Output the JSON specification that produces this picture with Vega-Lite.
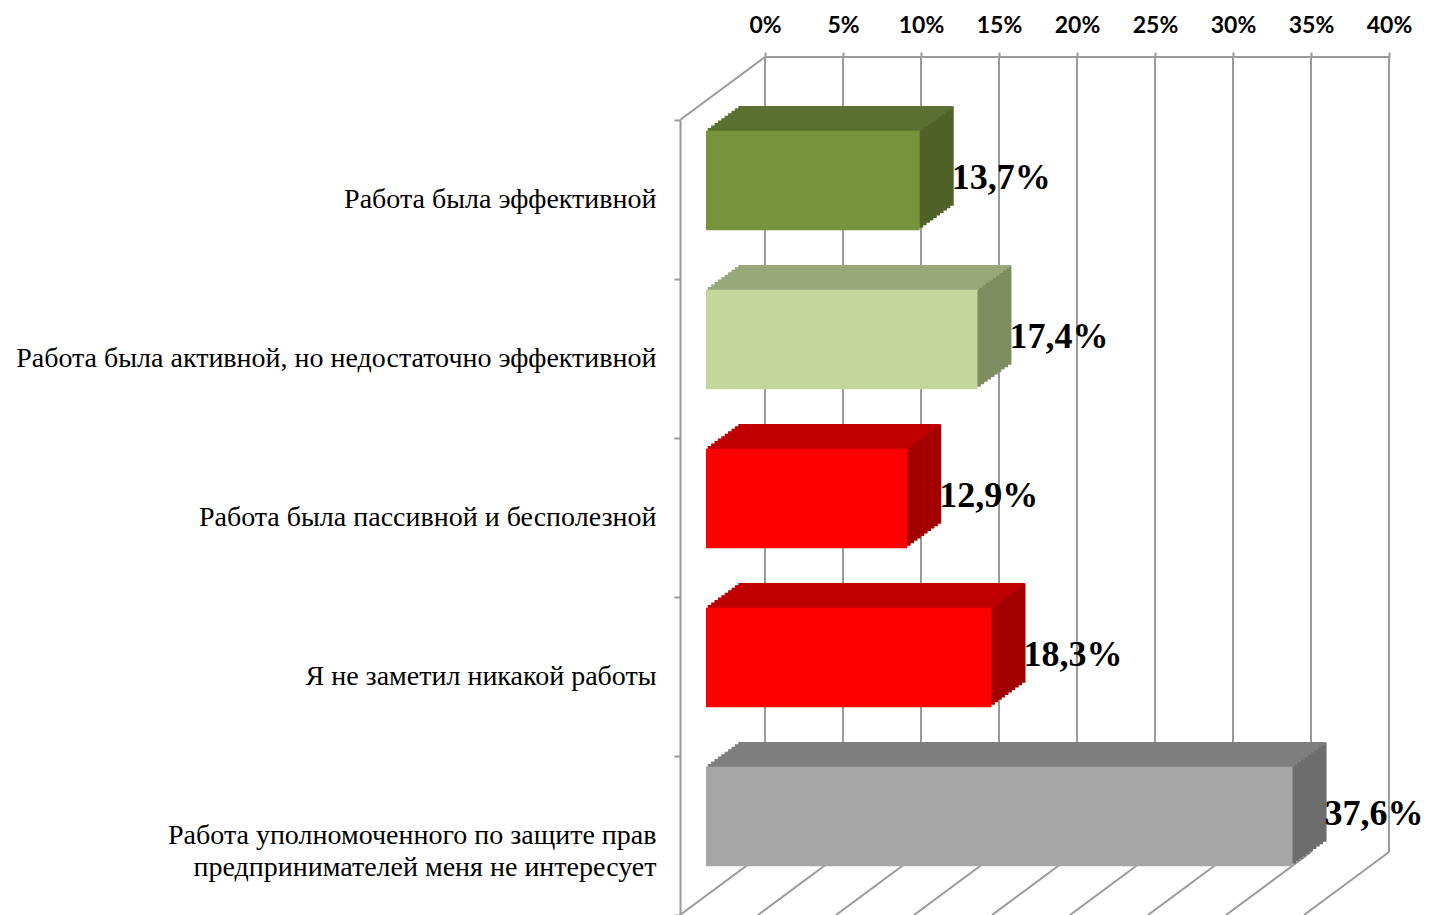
{
  "$schema": "https://vega.github.io/schema/vega-lite/v6.json",
  "width": 624,
  "height": 795,
  "autosize": "none",
  "padding": {"left": 680, "top": 120, "right": 126, "bottom": 0},
  "background": "white",
  "config": {
    "view": {"stroke": null},
    "locale": {"number": {"decimal": ",", "thousands": "\u00a0", "grouping": [3], "currency": ["", ""]}}
  },
  "resolve": {"scale": {"color": "independent"}},
  "datasets": {
    "bars": [
      {"key": "k1", "cat": "Работа была эффективной", "value": 0.137},
      {"key": "k2", "cat": "Работа была активной, но недостаточно эффективной", "value": 0.174},
      {"key": "k3", "cat": "Работа была пассивной и бесполезной", "value": 0.129},
      {"key": "k4", "cat": "Я не заметил никакой работы", "value": 0.183},
      {"key": "k5", "cat": "Работа уполномоченного по защите прав\nпредпринимателей меня не интересует", "value": 0.376}
    ],
    "ticks": [
      {"t": 0}, {"t": 0.05}, {"t": 0.1}, {"t": 0.15}, {"t": 0.2}, {"t": 0.25}, {"t": 0.3}, {"t": 0.35}, {"t": 0.4}
    ],
    "frame": [{"a": 0, "b": 0.4}]
  },
  "layer": [
    {
      "data": {"name": "ticks"},
      "mark": {"type": "rule", "color": "#9A9A9A", "strokeWidth": 2, "xOffset": 85, "x2Offset": 85, "yOffset": -63, "y2Offset": -63},
      "encoding": {"x": {"field": "t", "type": "quantitative"}, "x2": {"field": "t"}, "y": {"value": 0}, "y2": {"value": "height"}}
    },
    {
      "data": {"name": "frame"},
      "mark": {"type": "rule", "color": "#9A9A9A", "strokeWidth": 2, "xOffset": 85, "x2Offset": 85, "yOffset": -63, "y2Offset": -63},
      "encoding": {"x": {"field": "a", "type": "quantitative"}, "x2": {"field": "b"}, "y": {"value": 0}, "y2": {"value": 0}}
    },
    {
      "data": {"name": "frame"},
      "mark": {"type": "rule", "color": "#9A9A9A", "strokeWidth": 2, "x2Offset": 85, "y2Offset": -63},
      "encoding": {"x": {"field": "a", "type": "quantitative"}, "x2": {"field": "a"}, "y": {"value": 0}, "y2": {"value": 0}}
    },
    {
      "data": {"name": "ticks"},
      "mark": {"type": "rule", "color": "#9A9A9A", "strokeWidth": 2, "xOffset": 85, "yOffset": -63},
      "encoding": {"x": {"field": "t", "type": "quantitative"}, "x2": {"field": "t"}, "y": {"value": "height"}, "y2": {"value": "height"}}
    },
    {"data": {"name": "bars"}, "mark": {"type": "bar", "height": {"band": 0.625}, "xOffset": 60, "x2Offset": 60, "yOffset": -43.5}, "encoding": {"x": {"field": "value", "type": "quantitative"}, "y": {"field": "cat", "type": "nominal"}, "color": {"field": "key", "type": "nominal", "legend": null, "scale": {"domain": ["k1", "k2", "k3", "k4", "k5"], "range": ["#4F6228", "#7F8C60", "#A30000", "#A30000", "#6D6D6D"]}}}},
    {"data": {"name": "bars"}, "mark": {"type": "bar", "height": {"band": 0.625}, "xOffset": 56.6, "x2Offset": 56.6, "yOffset": -41.05}, "encoding": {"x": {"field": "value", "type": "quantitative"}, "y": {"field": "cat", "type": "nominal"}, "color": {"field": "key", "type": "nominal", "legend": null, "scale": {"domain": ["k1", "k2", "k3", "k4", "k5"], "range": ["#4F6228", "#7F8C60", "#A30000", "#A30000", "#6D6D6D"]}}}},
    {"data": {"name": "bars"}, "mark": {"type": "bar", "height": {"band": 0.625}, "xOffset": 53.2, "x2Offset": 53.2, "yOffset": -38.6}, "encoding": {"x": {"field": "value", "type": "quantitative"}, "y": {"field": "cat", "type": "nominal"}, "color": {"field": "key", "type": "nominal", "legend": null, "scale": {"domain": ["k1", "k2", "k3", "k4", "k5"], "range": ["#4F6228", "#7F8C60", "#A30000", "#A30000", "#6D6D6D"]}}}},
    {"data": {"name": "bars"}, "mark": {"type": "bar", "height": {"band": 0.625}, "xOffset": 49.8, "x2Offset": 49.8, "yOffset": -36.15}, "encoding": {"x": {"field": "value", "type": "quantitative"}, "y": {"field": "cat", "type": "nominal"}, "color": {"field": "key", "type": "nominal", "legend": null, "scale": {"domain": ["k1", "k2", "k3", "k4", "k5"], "range": ["#4F6228", "#7F8C60", "#A30000", "#A30000", "#6D6D6D"]}}}},
    {"data": {"name": "bars"}, "mark": {"type": "bar", "height": {"band": 0.625}, "xOffset": 46.4, "x2Offset": 46.4, "yOffset": -33.7}, "encoding": {"x": {"field": "value", "type": "quantitative"}, "y": {"field": "cat", "type": "nominal"}, "color": {"field": "key", "type": "nominal", "legend": null, "scale": {"domain": ["k1", "k2", "k3", "k4", "k5"], "range": ["#4F6228", "#7F8C60", "#A30000", "#A30000", "#6D6D6D"]}}}},
    {"data": {"name": "bars"}, "mark": {"type": "bar", "height": {"band": 0.625}, "xOffset": 43, "x2Offset": 43, "yOffset": -31.25}, "encoding": {"x": {"field": "value", "type": "quantitative"}, "y": {"field": "cat", "type": "nominal"}, "color": {"field": "key", "type": "nominal", "legend": null, "scale": {"domain": ["k1", "k2", "k3", "k4", "k5"], "range": ["#4F6228", "#7F8C60", "#A30000", "#A30000", "#6D6D6D"]}}}},
    {"data": {"name": "bars"}, "mark": {"type": "bar", "height": {"band": 0.625}, "xOffset": 39.6, "x2Offset": 39.6, "yOffset": -28.8}, "encoding": {"x": {"field": "value", "type": "quantitative"}, "y": {"field": "cat", "type": "nominal"}, "color": {"field": "key", "type": "nominal", "legend": null, "scale": {"domain": ["k1", "k2", "k3", "k4", "k5"], "range": ["#4F6228", "#7F8C60", "#A30000", "#A30000", "#6D6D6D"]}}}},
    {"data": {"name": "bars"}, "mark": {"type": "bar", "height": {"band": 0.625}, "xOffset": 36.2, "x2Offset": 36.2, "yOffset": -26.35}, "encoding": {"x": {"field": "value", "type": "quantitative"}, "y": {"field": "cat", "type": "nominal"}, "color": {"field": "key", "type": "nominal", "legend": null, "scale": {"domain": ["k1", "k2", "k3", "k4", "k5"], "range": ["#4F6228", "#7F8C60", "#A30000", "#A30000", "#6D6D6D"]}}}},
    {"data": {"name": "bars"}, "mark": {"type": "bar", "height": {"band": 0.625}, "xOffset": 32.8, "x2Offset": 32.8, "yOffset": -23.9}, "encoding": {"x": {"field": "value", "type": "quantitative"}, "y": {"field": "cat", "type": "nominal"}, "color": {"field": "key", "type": "nominal", "legend": null, "scale": {"domain": ["k1", "k2", "k3", "k4", "k5"], "range": ["#4F6228", "#7F8C60", "#A30000", "#A30000", "#6D6D6D"]}}}},
    {"data": {"name": "bars"}, "mark": {"type": "bar", "height": {"band": 0.625}, "xOffset": 29.4, "x2Offset": 29.4, "yOffset": -21.45}, "encoding": {"x": {"field": "value", "type": "quantitative"}, "y": {"field": "cat", "type": "nominal"}, "color": {"field": "key", "type": "nominal", "legend": null, "scale": {"domain": ["k1", "k2", "k3", "k4", "k5"], "range": ["#4F6228", "#7F8C60", "#A30000", "#A30000", "#6D6D6D"]}}}},
    {"data": {"name": "bars"}, "mark": {"type": "bar", "height": 3.25, "xOffset": 58.3, "x2Offset": 58.3, "yOffset": -91.975}, "encoding": {"x": {"field": "value", "type": "quantitative"}, "y": {"field": "cat", "type": "nominal"}, "color": {"field": "key", "type": "nominal", "legend": null, "scale": {"domain": ["k1", "k2", "k3", "k4", "k5"], "range": ["#5A7031", "#98A878", "#C00000", "#C00000", "#7F7F7F"]}}}},
    {"data": {"name": "bars"}, "mark": {"type": "bar", "height": 3.25, "xOffset": 54.9, "x2Offset": 54.9, "yOffset": -89.525}, "encoding": {"x": {"field": "value", "type": "quantitative"}, "y": {"field": "cat", "type": "nominal"}, "color": {"field": "key", "type": "nominal", "legend": null, "scale": {"domain": ["k1", "k2", "k3", "k4", "k5"], "range": ["#5A7031", "#98A878", "#C00000", "#C00000", "#7F7F7F"]}}}},
    {"data": {"name": "bars"}, "mark": {"type": "bar", "height": 3.25, "xOffset": 51.5, "x2Offset": 51.5, "yOffset": -87.075}, "encoding": {"x": {"field": "value", "type": "quantitative"}, "y": {"field": "cat", "type": "nominal"}, "color": {"field": "key", "type": "nominal", "legend": null, "scale": {"domain": ["k1", "k2", "k3", "k4", "k5"], "range": ["#5A7031", "#98A878", "#C00000", "#C00000", "#7F7F7F"]}}}},
    {"data": {"name": "bars"}, "mark": {"type": "bar", "height": 3.25, "xOffset": 48.1, "x2Offset": 48.1, "yOffset": -84.625}, "encoding": {"x": {"field": "value", "type": "quantitative"}, "y": {"field": "cat", "type": "nominal"}, "color": {"field": "key", "type": "nominal", "legend": null, "scale": {"domain": ["k1", "k2", "k3", "k4", "k5"], "range": ["#5A7031", "#98A878", "#C00000", "#C00000", "#7F7F7F"]}}}},
    {"data": {"name": "bars"}, "mark": {"type": "bar", "height": 3.25, "xOffset": 44.7, "x2Offset": 44.7, "yOffset": -82.175}, "encoding": {"x": {"field": "value", "type": "quantitative"}, "y": {"field": "cat", "type": "nominal"}, "color": {"field": "key", "type": "nominal", "legend": null, "scale": {"domain": ["k1", "k2", "k3", "k4", "k5"], "range": ["#5A7031", "#98A878", "#C00000", "#C00000", "#7F7F7F"]}}}},
    {"data": {"name": "bars"}, "mark": {"type": "bar", "height": 3.25, "xOffset": 41.3, "x2Offset": 41.3, "yOffset": -79.725}, "encoding": {"x": {"field": "value", "type": "quantitative"}, "y": {"field": "cat", "type": "nominal"}, "color": {"field": "key", "type": "nominal", "legend": null, "scale": {"domain": ["k1", "k2", "k3", "k4", "k5"], "range": ["#5A7031", "#98A878", "#C00000", "#C00000", "#7F7F7F"]}}}},
    {"data": {"name": "bars"}, "mark": {"type": "bar", "height": 3.25, "xOffset": 37.9, "x2Offset": 37.9, "yOffset": -77.275}, "encoding": {"x": {"field": "value", "type": "quantitative"}, "y": {"field": "cat", "type": "nominal"}, "color": {"field": "key", "type": "nominal", "legend": null, "scale": {"domain": ["k1", "k2", "k3", "k4", "k5"], "range": ["#5A7031", "#98A878", "#C00000", "#C00000", "#7F7F7F"]}}}},
    {"data": {"name": "bars"}, "mark": {"type": "bar", "height": 3.25, "xOffset": 34.5, "x2Offset": 34.5, "yOffset": -74.825}, "encoding": {"x": {"field": "value", "type": "quantitative"}, "y": {"field": "cat", "type": "nominal"}, "color": {"field": "key", "type": "nominal", "legend": null, "scale": {"domain": ["k1", "k2", "k3", "k4", "k5"], "range": ["#5A7031", "#98A878", "#C00000", "#C00000", "#7F7F7F"]}}}},
    {"data": {"name": "bars"}, "mark": {"type": "bar", "height": 3.25, "xOffset": 31.1, "x2Offset": 31.1, "yOffset": -72.375}, "encoding": {"x": {"field": "value", "type": "quantitative"}, "y": {"field": "cat", "type": "nominal"}, "color": {"field": "key", "type": "nominal", "legend": null, "scale": {"domain": ["k1", "k2", "k3", "k4", "k5"], "range": ["#5A7031", "#98A878", "#C00000", "#C00000", "#7F7F7F"]}}}},
    {"data": {"name": "bars"}, "mark": {"type": "bar", "height": 3.25, "xOffset": 27.7, "x2Offset": 27.7, "yOffset": -69.925}, "encoding": {"x": {"field": "value", "type": "quantitative"}, "y": {"field": "cat", "type": "nominal"}, "color": {"field": "key", "type": "nominal", "legend": null, "scale": {"domain": ["k1", "k2", "k3", "k4", "k5"], "range": ["#5A7031", "#98A878", "#C00000", "#C00000", "#7F7F7F"]}}}},
    {
      "data": {"name": "bars"},
      "mark": {"type": "bar", "height": {"band": 0.625}, "xOffset": 26, "x2Offset": 26, "yOffset": -19},
      "encoding": {
        "x": {
          "field": "value", "type": "quantitative",
          "scale": {"domain": [0, 0.4], "nice": false, "zero": true},
          "axis": {
            "orient": "top", "title": null,
            "values": [0, 0.05, 0.1, 0.15, 0.2, 0.25, 0.3, 0.35, 0.4],
            "format": ".0%", "grid": false, "domain": false,
            "ticks": true, "tickSize": 5, "tickColor": "#9A9A9A", "tickWidth": 2,
            "tickOffset": 85, "offset": 63,
            "labelFont": "Lato", "labelFontWeight": "bold", "labelFontSize": 23, "labelColor": "#000000",
            "labelPadding": 15, "labelFlush": false, "labelOverlap": false, "labelBound": false
          }
        },
        "y": {
          "field": "cat", "type": "nominal",
          "scale": {"domain": ["Работа была эффективной", "Работа была активной, но недостаточно эффективной", "Работа была пассивной и бесполезной", "Я не заметил никакой работы", "Работа уполномоченного по защите прав\nпредпринимателей меня не интересует"], "paddingInner": 0, "paddingOuter": 0},
          "axis": {
            "title": null, "grid": false,
            "domain": true, "domainColor": "#9A9A9A", "domainWidth": 2,
            "ticks": true, "tickBand": "extent", "tickSize": 6, "tickColor": "#9A9A9A", "tickWidth": 2,
            "labelFont": "Liberation Serif", "labelFontSize": 28, "labelColor": "#000000",
            "labelPadding": 18, "labelLimit": 0,
            "labelExpr": "split(datum.label, '\\n')", "labelLineHeight": 32
          }
        },
        "color": {"field": "key", "type": "nominal", "legend": null, "scale": {"domain": ["k1", "k2", "k3", "k4", "k5"], "range": ["#77933C", "#C3D69B", "#FF0000", "#FF0000", "#A6A6A6"]}}
      }
    },
    {
      "data": {"name": "bars"},
      "mark": {"type": "text", "align": "left", "baseline": "middle", "dx": 58, "dy": -22, "font": "Liberation Serif", "fontWeight": "bold", "fontSize": 36, "color": "#000000"},
      "encoding": {
        "x": {"field": "value", "type": "quantitative"},
        "y": {"field": "cat", "type": "nominal"},
        "text": {"field": "value", "type": "quantitative", "format": ".1%"}
      }
    }
  ]
}
